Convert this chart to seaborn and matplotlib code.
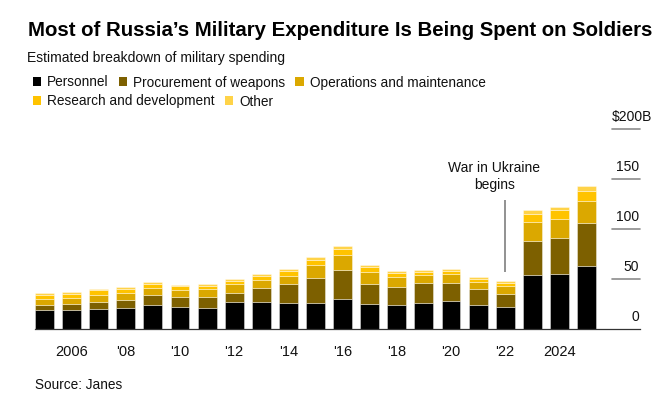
import pandas as pd
import seaborn as sns
import matplotlib.pyplot as plt
from matplotlib.patches import Patch

# Estimated Russian military spending, $B
years = list(range(2005, 2026))
personnel = [19.2, 19.8, 20.8, 21.8, 24.5, 22.6, 21.6, 27.0, 27.0, 26.0, 26.2,
             30.6, 25.0, 24.6, 26.6, 28.6, 24.0, 22.0, 54.0, 55.0, 63.6]
procurement = [5.6, 6.0, 6.7, 8.0, 9.7, 10.0, 10.4, 9.3, 14.6, 19.0, 25.4,
               28.4, 20.0, 17.7, 19.4, 18.0, 16.0, 13.0, 34.3, 36.3, 42.4]
operations = [6.0, 6.0, 6.7, 7.0, 7.0, 7.0, 8.6, 9.3, 8.0, 8.3, 12.4,
              15.6, 12.6, 9.7, 8.6, 8.4, 7.6, 8.0, 19.3, 18.7, 22.6]
research = [3.4, 3.4, 4.8, 4.0, 4.0, 3.4, 3.0, 2.7, 3.7, 5.0, 5.6,
            6.0, 4.4, 4.3, 2.4, 3.3, 3.0, 3.3, 8.0, 9.0, 10.0]
other = [2.3, 2.3, 1.2, 1.7, 2.3, 1.6, 1.7, 2.0, 2.0, 2.0, 2.5,
         2.7, 2.0, 2.0, 2.3, 2.0, 1.7, 2.0, 3.7, 3.3, 4.7]

categories = ['Personnel', 'Procurement of weapons', 'Operations and maintenance',
              'Research and development', 'Other']
colors = ['#000000', '#7d6000', '#dba800', '#ffc300', '#ffd348']

tick_years = list(range(2006, 2025, 2))
tick_labels = ['2006', "'08", "'10", "'12", "'14", "'16", "'18", "'20", "'22", '2024']
y_ticks = [0, 50, 100, 150]

df = pd.DataFrame({'year': years, categories[0]: personnel, categories[1]: procurement,
                   categories[2]: operations, categories[3]: research, categories[4]: other})
long = df.melt(id_vars='year', var_name='cat', value_name='value')

sns.set_style('white')
plt.rcParams['font.family'] = ['Liberation Sans', 'DejaVu Sans']
plt.rcParams['text.color'] = '#111111'

fig = plt.figure(figsize=(6.66, 3.98), dpi=100)
ax = fig.add_axes([35 / 666, 68.7 / 398, 605 / 666, 200 / 398])

sns.histplot(data=long, x='year', weights='value', hue='cat',
             hue_order=categories[::-1], palette=dict(zip(categories, colors)),
             multiple='stack', discrete=True, shrink=0.7, alpha=1,
             edgecolor=(1, 1, 1, 0.45), linewidth=0.6, legend=False, ax=ax)

ax.set_xlim(2004.65, 2004.65 + 605 / 27.1)
ax.set_ylim(0, 200)
ax.set_xlabel('')
ax.set_ylabel('')
ax.set_yticks([])
for s in ['left', 'right', 'top']:
    ax.spines[s].set_visible(False)
ax.spines['bottom'].set_color('#333333')
ax.spines['bottom'].set_linewidth(0.9)

ax.set_xticks(tick_years)
ax.set_xticklabels(tick_labels)
ax.tick_params(axis='x', direction='out', length=3.6, width=0.8, color='#555555',
               labelsize=10.5, pad=7.5, labelcolor='#111111')

# short right-hand gridlines with labels sitting on top
gx = (612 - 35) / 605
for v in y_ticks[1:] + [200]:
    ax.axhline(v, xmin=gx, xmax=1, color='#8c8c8c', lw=1.2, clip_on=False)
for v in y_ticks:
    ax.annotate(str(v), xy=(1, v), xycoords=('axes fraction', 'data'),
                xytext=(-0.7, 8.6), textcoords='offset points',
                ha='right', va='center', fontsize=10, color='#111111')
ax.annotate('$200B', xy=(1, 200), xycoords=('axes fraction', 'data'),
            xytext=(9.1, 9.2), textcoords='offset points',
            ha='right', va='center', fontsize=10, color='#111111', annotation_clip=False)

# war annotation
ax.vlines(2022, 57, 129, color='#7f7f7f', lw=1.2)
ax.text(2021.6, 137.5, 'War in Ukraine\nbegins', ha='center', va='bottom',
        fontsize=10, linespacing=1.3, color='#111111')

fig.text(28 / 666, 1 - 36 / 398, 'Most of Russia\u2019s Military Expenditure Is Being Spent on Soldiers',
         fontsize=14.7, fontweight='bold', va='baseline', ha='left', color='black')
fig.text(27 / 666, 1 - 61.7 / 398, 'Estimated breakdown of military spending',
         fontsize=10, va='baseline', ha='left', color='#111111')
fig.text(35 / 666, 1 - 389 / 398, 'Source: Janes', fontsize=9.8, va='baseline', ha='left',
         color='#111111')

handles = [Patch(facecolor=c, edgecolor='none', label=l) for c, l in zip(colors, categories)]
leg_kw = dict(frameon=False, fontsize=9.8, handlelength=0.62, handleheight=0.62,
              handletextpad=0.42, columnspacing=0.75, borderpad=0, borderaxespad=0,
              loc='upper left', labelcolor='#111111')
leg1 = fig.legend(handles=handles[:3], ncol=3, bbox_to_anchor=(33 / 666, 1 - 75.5 / 398), **leg_kw)
fig.legend(handles=handles[3:], ncol=2, bbox_to_anchor=(33 / 666, 1 - 94.5 / 398), **leg_kw)

fig.savefig('out.png', dpi=100)
